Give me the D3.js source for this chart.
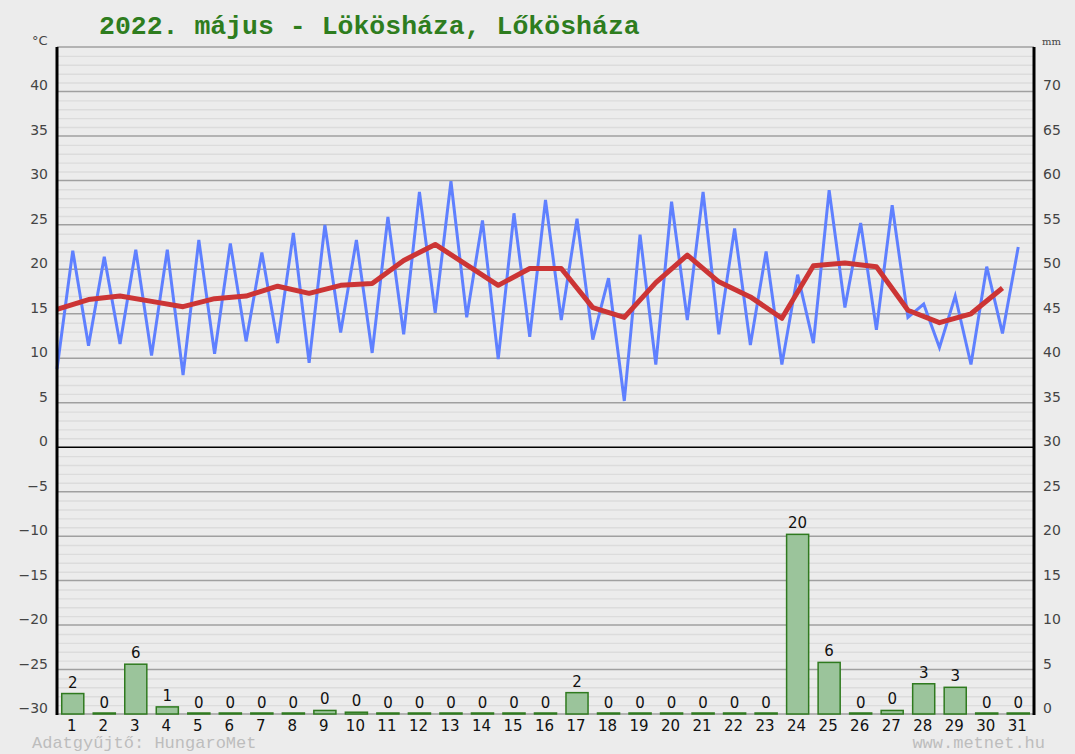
<!DOCTYPE html>
<html>
<head>
<meta charset="utf-8">
<script src="https://cdn.jsdelivr.net/npm/d3@7"></script>
<style>
  html, body { margin: 0; padding: 0; background: #ececec; }
  svg { display: block; }
</style>
</head>
<body>
<svg id="chart" width="1075" height="754"></svg>
<script>
// ---- data ----
const days = d3.range(1, 32);
const tMin = [8.8, 11.4, 11.6, 10.3, 8.1, 10.5, 11.9, 11.7, 9.5, 12.9, 10.6, 12.7, 15.1, 14.6, 9.9, 12.4,
              14.3, 12.1, 5.2, 9.3, 14.3, 12.7, 11.5, 9.3, 11.7, 15.7, 13.2, 14.6, 11.2, 9.3, 12.8];
const tMax = [22.1, 21.4, 22.2, 22.2, 23.3, 22.9, 21.9, 24.1, 25.0, 23.3, 25.9, 28.7, 29.9, 25.5, 26.3, 27.8,
              25.7, 19.0, 23.9, 27.6, 28.7, 24.6, 22.0, 19.4, 28.9, 25.2, 27.2, 16.1, 17.0, 20.3, 22.5];
const tMean = [15.5, 16.6, 17.0, 16.4, 15.8, 16.7, 17.0, 18.1, 17.3, 18.2, 18.4, 21.0, 22.8, 20.5, 18.2, 20.1,
               20.1, 15.7, 14.6, 18.5, 21.6, 18.6, 16.9, 14.5, 20.4, 20.7, 20.3, 15.4, 14.0, 15.0, 17.9];
const precip = [2.3, 0, 5.6, 0.8, 0, 0, 0, 0, 0.4, 0.2, 0, 0, 0, 0, 0, 0,
                2.4, 0, 0, 0, 0, 0, 0, 20.2, 5.8, 0, 0.4, 3.4, 3.0, 0, 0];
const tempTicks = [0, 5, 10, 15, 20, 25, 30, 35, 40, -5, -10, -15, -20, -25, -30];
const mmTicks = [0, 5, 10, 15, 20, 25, 30, 35, 40, 45, 50, 55, 60, 65, 70];
const title = "2022. május - Lökösháza, Lőkösháza";
const footLeft = "Adatgyűjtő: HungaroMet";
const footRight = "www.metnet.hu";

// ---- layout ----
const L = 57, R = 1034, T = 47, B = 714;
const svg = d3.select("#chart");

const y = d3.scaleLinear().domain([-30, 45]).range([B, T]);
const yMM = d3.scaleLinear().domain([0, 75]).range([B, T]);
const xL = d3.scaleLinear().domain([0, 31]).range([L, R]);
const xB = d3.scaleBand().domain(days).range([L, R]).paddingInner(0.3).paddingOuter(0.15);

// gridlines
const g = svg.append("g");
g.selectAll("line.minor").data(d3.range(-30, 46).filter(v => v % 5 !== 0)).join("line")
  .attr("x1", L).attr("x2", R).attr("y1", d => y(d) + 0.5).attr("y2", d => y(d) + 0.5)
  .attr("stroke", "#dcdcdc").attr("stroke-width", 1.4);
g.selectAll("line.major").data(d3.range(-30, 46, 5).filter(v => v !== 0)).join("line")
  .attr("x1", L).attr("x2", R).attr("y1", d => y(d)).attr("y2", d => y(d))
  .attr("stroke", "#a0a0a0").attr("stroke-width", 1.5);
g.append("line").attr("x1", L).attr("x2", R).attr("y1", y(0)).attr("y2", y(0))
  .attr("stroke", "#000").attr("stroke-width", 1.6);

// bars
svg.append("g").selectAll("rect").data(days).join("rect")
  .attr("x", d => xB(d))
  .attr("width", xB.bandwidth())
  .attr("y", d => Math.min(yMM(precip[d - 1]), yMM(0) - 1))
  .attr("height", d => Math.max(yMM(0) - yMM(precip[d - 1]), 1))
  .attr("fill", "#9bc49b").attr("stroke", "#2f7a1f").attr("stroke-width", 1.5);

svg.append("g").selectAll("text").data(days).join("text")
  .attr("x", d => xB(d) + xB.bandwidth() / 2)
  .attr("y", d => yMM(precip[d - 1]) - 6)
  .attr("text-anchor", "middle")
  .attr("font-family", "DejaVu Sans, sans-serif").attr("font-size", 15).attr("fill", "#111")
  .text(d => Math.round(precip[d - 1]));

// blue min/max line
const bluePts = [];
days.forEach((d, i) => { bluePts.push([xL(i), tMin[i]]); bluePts.push([xL(i + 0.5), tMax[i]]); });
svg.append("path").datum(bluePts)
  .attr("d", d3.line().x(p => p[0]).y(p => y(p[1])))
  .attr("fill", "none").attr("stroke", "#5f80ff").attr("stroke-width", 3).attr("stroke-linejoin", "miter");

// red mean line
svg.append("path").datum(days)
  .attr("d", d3.line().x(d => xL(d - 1)).y(d => y(tMean[d - 1])))
  .attr("fill", "none").attr("stroke", "#cc3535").attr("stroke-width", 5).attr("stroke-linejoin", "round");

// axes
svg.append("line").attr("x1", L).attr("x2", L).attr("y1", T).attr("y2", B + 1)
  .attr("stroke", "#000").attr("stroke-width", 3);
svg.append("line").attr("x1", R).attr("x2", R).attr("y1", T).attr("y2", B + 1)
  .attr("stroke", "#000").attr("stroke-width", 3);

const fmt = v => (v < 0 ? "−" + Math.abs(v) : String(v));
svg.append("g").selectAll("text").data(tempTicks).join("text")
  .attr("x", 48).attr("y", d => y(d) - 1)
  .attr("text-anchor", "end")
  .attr("font-family", "DejaVu Sans, sans-serif").attr("font-size", 14).attr("fill", "#444")
  .text(fmt);
svg.append("g").selectAll("text").data(mmTicks).join("text")
  .attr("x", 1043).attr("y", d => yMM(d) - 1)
  .attr("text-anchor", "start")
  .attr("font-family", "DejaVu Sans, sans-serif").attr("font-size", 14).attr("fill", "#444")
  .text(d => d);

// day labels
svg.append("g").selectAll("text").data(days).join("text")
  .attr("x", d => xB(d) + xB.bandwidth() / 2 - 1)
  .attr("y", 731)
  .attr("text-anchor", "middle")
  .attr("font-family", "DejaVu Sans, sans-serif").attr("font-size", 15).attr("fill", "#111")
  .text(d => d);

// units
svg.append("text").attr("x", 32).attr("y", 45)
  .attr("font-family", "DejaVu Sans, sans-serif").attr("font-size", 13).attr("fill", "#444").text("°C");
svg.append("text").attr("x", 1042).attr("y", 45)
  .attr("font-family", "DejaVu Serif, serif").attr("font-size", 10).attr("fill", "#444").text("mm");

// title
svg.append("text").attr("x", 99).attr("y", 34)
  .attr("font-family", "Liberation Mono, monospace").attr("font-weight", "bold")
  .attr("font-size", 26.5).attr("fill", "#2e7d1e").text(title);

// footer
svg.append("text").attr("x", 32).attr("y", 748)
  .attr("font-family", "Liberation Mono, monospace").attr("font-size", 17)
  .attr("fill", "#bdbdbd").text(footLeft);
svg.append("text").attr("x", 1045).attr("y", 748).attr("text-anchor", "end")
  .attr("font-family", "Liberation Mono, monospace").attr("font-size", 17)
  .attr("fill", "#bdbdbd").text(footRight);
</script>
</body>
</html>
